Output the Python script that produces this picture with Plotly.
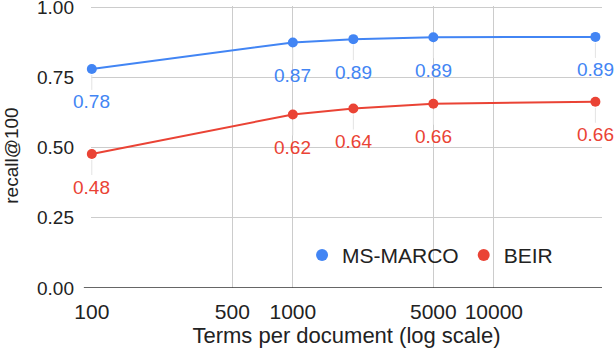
import math
import plotly.graph_objects as go

terms = [100, 1000, 2000, 5000, 32000]
msmarco = [0.78, 0.874, 0.886, 0.893, 0.894]
beir = [0.477, 0.618, 0.639, 0.656, 0.663]
series_names = ["MS-MARCO", "BEIR"]
colors = ["#4285F4", "#EA4335"]
x_ticks = [100, 500, 1000, 5000, 10000]
y_ticks = [0, 0.25, 0.5, 0.75, 1.0]

FONT = "Arial, Liberation Sans, sans-serif"
TXT = "#222222"

fig = go.Figure()
annotations = []
for name, vals, col in zip(series_names, [msmarco, beir], colors):
    fig.add_trace(go.Scatter(
        x=terms, y=vals, name=name, mode="lines+markers", showlegend=False,
        line=dict(color=col, width=2), cliponaxis=False,
        marker=dict(color=col, size=10),
    ))
    for xv, yv in zip(terms, vals):
        annotations.append(dict(
            x=math.log10(xv), y=yv, xref="x", yref="y",
            text=f"{yv:.2f}", showarrow=True, arrowhead=0, arrowwidth=1,
            arrowcolor="#e3e3e3", ax=0, ay=33, standoff=6,
            font=dict(family=FONT, size=19, color=col),
        ))
# legend-only entries (markers only, like the reference legend)
for name, col in zip(series_names, colors):
    fig.add_trace(go.Scatter(
        x=[None], y=[None], name=name, mode="markers",
        marker=dict(color=col, size=12),
    ))

# y-axis title (placed slightly below the plot centre, as in the reference)
annotations.append(dict(
    text="recall@100", textangle=-90, showarrow=False,
    xref="paper", yref="paper", x=-0.156, y=0.47,
    xanchor="center", yanchor="middle",
    font=dict(family=FONT, size=19, color=TXT),
))

fig.update_layout(
    width=614, height=348,
    margin=dict(l=91, r=12, t=6, b=60, autoexpand=False),
    plot_bgcolor="white", paper_bgcolor="white",
    font=dict(family=FONT, size=19, color=TXT),
    showlegend=True,
    legend=dict(orientation="h", x=0.413, y=0.116, xanchor="left", yanchor="middle",
                bgcolor="rgba(0,0,0,0)", font=dict(size=21, color=TXT),
                itemsizing="constant", itemwidth=30),
    annotations=annotations,
    xaxis=dict(
        type="log", range=[1.996, 4.538], tickvals=x_ticks,
        ticktext=[str(v) for v in x_ticks], automargin=False,
        showgrid=True, gridcolor="#cccccc", gridwidth=1,
        zeroline=False, showline=False, ticks="", ticklabelstandoff=9,
        ticklabeloverflow="allow",
        title=dict(text="Terms per document (log scale)", standoff=11,
                   font=dict(size=22, color=TXT)),
        tickfont=dict(size=21, color=TXT),
    ),
    yaxis=dict(
        range=[0, 1.004], tickvals=y_ticks, tickformat=".2f", automargin=False,
        showgrid=True, gridcolor="#cccccc", gridwidth=1,
        zeroline=False, showline=False, ticks="", ticklabelstandoff=16,
        ticklabeloverflow="allow",
        tickfont=dict(size=19, color=TXT),
    ),
    shapes=[dict(type="line", xref="paper", yref="y", x0=-0.014, x1=1,
                 y0=0, y1=0, line=dict(color="#333333", width=1.5))],
)

fig.write_html(
    "out.html",
    config={"displayModeBar": False},
    post_script="document.body.style.margin='0px';document.body.style.overflow='hidden';",
)
